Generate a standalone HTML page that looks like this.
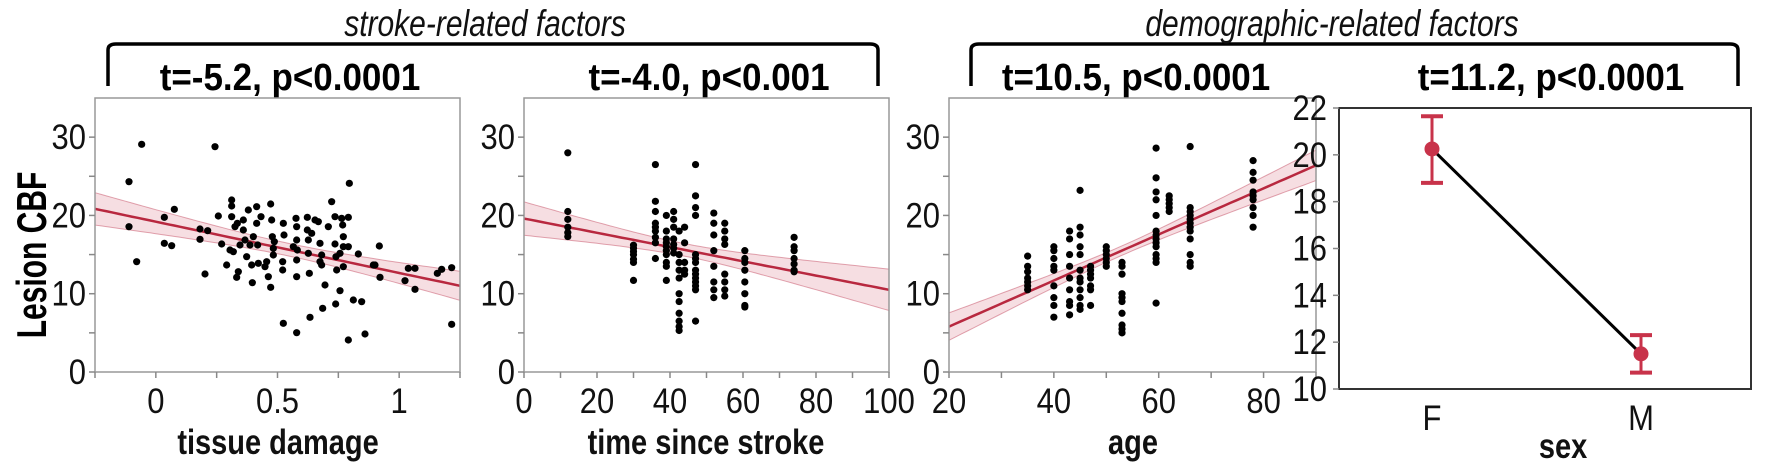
<!DOCTYPE html>
<html><head><meta charset="utf-8"><style>
html,body{margin:0;padding:0;background:#fff;}
svg{display:block;}
text{font-family:"Liberation Sans",Arial,sans-serif;}
</style></head><body>
<svg id="s" width="1772" height="476" viewBox="0 0 1772 476" xmlns="http://www.w3.org/2000/svg">
<path d="M108,86 L108,50 Q108,44 116,44 L870,44 Q878,44 878,50 L878,86" fill="none" stroke="#000" stroke-width="3.5"/>
<path d="M971,86 L971,50 Q971,44 979,44 L1730,44 Q1738,44 1738,50 L1738,86" fill="none" stroke="#000" stroke-width="3.5"/>
<g id="g"></g>
</svg>
<script>
var NS="http://www.w3.org/2000/svg",G=document.getElementById('g');
function el(t,a){var e=document.createElementNS(NS,t);for(var k in a)e.setAttribute(k,a[k]);G.appendChild(e);return e;}
function tx(x,y,s,size,o){o=o||{};var a={x:0,y:0,'font-size':size,'text-anchor':o.anchor||'middle',fill:o.fill||'#111',
  transform:'translate('+x+','+y+')'+(o.rot?' rotate('+o.rot+')':'')+' scale('+(o.sx||1)+','+(o.sy||1)+')'};
  if(o.bold)a['font-weight']='bold';if(o.it)a['font-style']='italic';var e=el('text',a);e.textContent=s;}
tx(485,36,'stroke-related factors',30,{it:1,sy:1.25});
tx(1332,36,'demographic-related factors',30,{it:1,sy:1.25});
tx(290,90,'t=-5.2, p<0.0001',35,{bold:1,fill:'#000',sy:1.08});
tx(709,90,'t=-4.0, p<0.001',35,{bold:1,fill:'#000',sy:1.08});
tx(1136,90,'t=10.5, p<0.0001',35,{bold:1,fill:'#000',sy:1.08});
tx(1551,90,'t=11.2, p<0.0001',35,{bold:1,fill:'#000',sy:1.08});
tx(46,255,'Lesion CBF',30,{bold:1,fill:'#000',rot:-90,sy:1.4});
tx(278,454,'tissue damage',29,{bold:1,sy:1.2});
tx(706,454,'time since stroke',29,{bold:1,sy:1.2});
tx(1133,454,'age',29,{bold:1,sy:1.2});
tx(1563,458,'sex',29,{bold:1,sy:1.2});
function tick(x,y,s,anchor){tx(x,y,s,31,{anchor:anchor,sy:1.15});}
var Y0=372,YT=98;
function yv(v){return Y0-(Y0-YT)*v/35;}
function panel(L,R,x0,x1,xticks,xlabels,minor,line,band){
  var X=function(v){return L+(R-L)*(v-x0)/(x1-x0);};
  var up=[],lo=[],ln=[];
  for(var i=0;i<=60;i++){var v=x0+(x1-x0)*i/60,m=line[0]+line[1]*v,h=Math.sqrt(band[0]+band[1]*(v-band[2])*(v-band[2]));
    up.push(X(v).toFixed(1)+','+yv(m+h).toFixed(1));lo.unshift(X(v).toFixed(1)+','+yv(m-h).toFixed(1));ln.push(X(v).toFixed(1)+','+yv(m).toFixed(1));}
  el('polygon',{points:up.concat(lo).join(' '),fill:'rgba(205,70,95,0.18)',stroke:'rgba(190,60,85,0.45)','stroke-width':1});
  el('polyline',{points:ln.join(' '),fill:'none',stroke:'#b8283f','stroke-width':2.5});
  el('rect',{x:L,y:YT,width:R-L,height:Y0-YT,fill:'none',stroke:'#999','stroke-width':1.5});
  for(var v=0;v<=30;v+=5){el('line',{x1:L-6,x2:L,y1:yv(v),y2:yv(v),stroke:'#888','stroke-width':1.5});
    if(v%10==0)tick(L-9,yv(v)+12,''+v,'end');}
  minor.forEach(function(v){el('line',{x1:X(v),x2:X(v),y1:Y0,y2:Y0+6,stroke:'#888','stroke-width':1.5});});
  xticks.forEach(function(v,i){tick(X(v),413,xlabels[i]);});
  return X;
}
function dot(x,y){el('circle',{cx:x,cy:y,r:3.6,fill:'#000'});}
var X1=panel(95,460,-0.25,1.25,[0,0.5,1],['0','0.5','1'],[-0.25,0,0.25,0.5,0.75,1,1.25],[19.2,-6.55],[0.64,5.7,0.55]);
var p1=[[387,305],[425,193],[387,440],[410,545],[645,200],[493,412],[523,388],[493,490],[515,497],[600,447],[623,452],[600,478],[615,582],[655,408],[665,492],[680,555],[695,360],[695,378],[695,410],[690,510],[700,515],[705,440],[712,430],[715,575],[710,592],[720,495],[730,420],[735,480],[740,530],[745,390],[750,495],[755,555],[757,608],[770,380],[770,430],[773,495],[775,550],[783,410],[795,560],[800,545],[805,590],[812,372],[812,622],[815,420],[817,470],[820,505],[820,525],[823,485],[850,430],[852,465],[848,545],[848,570],[850,730],[888,415],[890,440],[890,480],[892,510],[890,540],[890,590],[890,758],[922,412],[922,450],[925,480],[925,520],[928,580],[930,712],[935,460],[945,420],[955,425],[960,490],[965,525],[965,555],[968,685],[975,615],[985,440],[995,365],[1005,410],[1005,492],[1008,530],[1010,570],[1007,672],[1020,632],[1025,415],[1028,435],[1030,470],[1030,500],[1030,560],[1045,412],[1045,500],[1048,310],[1045,780],[1060,660],[1075,522],[1085,665],[1095,762],[1120,555],[1125,555],[1138,498],[1140,592],[1215,602],[1225,565],[1245,565],[1245,628],[1312,580],[1325,568],[1355,563],[1355,733],[1020,520],[960,545],[880,500],[760,470],[730,450]];
p1.forEach(function(p){dot(p[0]/3,p[1]/3+80);});
var m2=[];for(var i=0;i<=100;i+=10)m2.push(i);
var X2=panel(524,889,0,100,[0,20,40,60,80,100],['0','20','40','60','80','100'],m2,[19.6,-0.091],[0.64,0.00203,44]);
var c2={12:[28,20.5,19.5,18.5,17.8,17.3],30:[16.2,15.8,15.4,15,14.4,14,11.7],36:[26.5,21.8,20.5,19,18.5,18,17.2,16.5,14.5],39:[20,18,17,16.5,16,15.5,15,14,13.5,11.7],41:[20.5,19.5,18.5,17,16.3,15.8,15.2],42.5:[18,15,14,13,12,10,9,7.5,6.5,5.8,5.3],44:[18.5,16.5,14,13,12.5],47:[26.5,22.5,21,20,15,14.5,14,13,12.5,12,11.5,11,10.5,6.5],52:[20.3,19,17.5,15.5,13.5,11.5,10.5,9.5],55:[19,18,17,16.3,12.5,11.5,10.5,9.7],60.5:[15.5,14.5,14,13,11.5,10,8.5,8.3],74:[17.2,16,15.5,14.5,13.8,13,12.8]};
for(var k in c2)c2[k].forEach(function(v){dot(X2(+k),yv(v));});
var m3=[];for(var i=20;i<=90;i+=10)m3.push(i);
var X3=panel(949,1316,20,90,[20,40,60,80],['20','40','60','80'],m3,[5.8-20*0.2943,0.2943],[0.36,0.0025,53]);
var c3={35:[14.8,13.5,12.8,12,11.5,11,10.5],40:[16,15.5,14.5,13.5,13,11,9.5,8.5,7],43:[18,17,15,13.5,12,10.5,9,8.5,7.3],45:[23.2,18.5,17.5,16,15,13,12,11.5,10.5,9.5,8.5,8],47:[13.5,13,12.5,12,11,10.5,8.5],50:[16,15.5,15,14.5,14,13.5],53:[14,13.5,12.5,10,9.5,9,7.5,6,5.5,5],59.5:[28.6,24.8,23,22,20,18,17.5,17,16.5,16,15,14.5,14,8.8],62:[22.5,22,21.5,21,20.5],66:[28.8,21,20.5,20,19.5,19,18.5,18,17,15,14,13.5],78:[27,25.5,24.5,23,22.5,22,21,20,18.5]};
for(var k in c3)c3[k].forEach(function(v){dot(X3(+k),yv(v));});
var L4=1339,R4=1751,T4=108,B4=389,XF=1432,XM=1641;
function y4(v){return B4-(B4-T4)*(v-10)/12;}
el('rect',{x:L4,y:T4,width:R4-L4,height:B4-T4,fill:'none',stroke:'#333','stroke-width':2});
for(var v=10;v<=22;v+=2){el('line',{x1:L4-6,x2:L4,y1:y4(v),y2:y4(v),stroke:'#888','stroke-width':1.5});tick(1327,y4(v)+12,''+v,'end');}
tick(XF,430,'F');tick(XM,430,'M');
el('line',{x1:XF,y1:y4(20.25),x2:XM,y2:y4(11.5),stroke:'#000','stroke-width':3});
[[XF,20.25,18.8,21.65],[XM,11.5,10.7,12.3]].forEach(function(d){
  var c='#c8334a';
  el('line',{x1:d[0],x2:d[0],y1:y4(d[2]),y2:y4(d[3]),stroke:c,'stroke-width':3});
  el('line',{x1:d[0]-11,x2:d[0]+11,y1:y4(d[2]),y2:y4(d[2]),stroke:c,'stroke-width':4});
  el('line',{x1:d[0]-11,x2:d[0]+11,y1:y4(d[3]),y2:y4(d[3]),stroke:c,'stroke-width':4});
  el('circle',{cx:d[0],cy:y4(d[1]),r:7.5,fill:c});
});
</script>
</body></html>
